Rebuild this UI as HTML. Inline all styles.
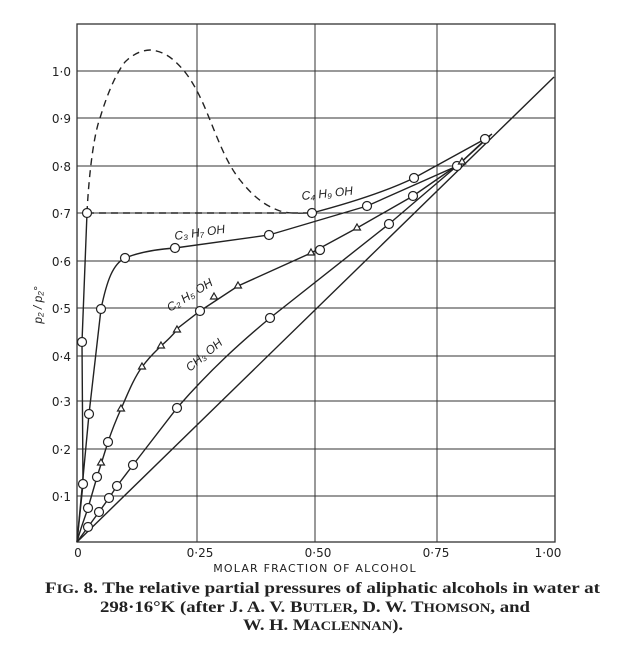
<!DOCTYPE html>
<html><head><meta charset="utf-8"><style>
body{margin:0;background:#fff;width:630px;height:656px;overflow:hidden}
svg{display:block}
.t{font-family:"DejaVu Sans","Liberation Sans",sans-serif;font-size:12px;fill:#222}
.c{font-family:"Liberation Serif",serif;font-size:16px;fill:#222;font-weight:bold}
.l{font-family:"Liberation Sans",sans-serif;font-style:italic;font-size:12px;fill:#222}
</style></head><body>
<svg width="630" height="656" viewBox="0 0 630 656" xmlns="http://www.w3.org/2000/svg">
<g stroke="#333" stroke-width="1" fill="none">
<rect x="77" y="24" width="478" height="518" stroke-width="1.3"/>
<path d="M197 24V542M315 24V542M437 24V542"/>
<path d="M77 71H555M77 118H555M77 166H555M77 213H555M77 261H555M77 308H555M77 356H555M77 401H555M77 449H555M77 496H555"/>
</g>
<g stroke="#222" stroke-width="1.4" fill="none">
<path d="M77 542L554 77"/>
<path d="M77 542C80 530 84 520 88 508L97 477L108 442C112 430 116 420 121 409C128 393 134 378 142 367C150 356 155 352 161 346C170 338 175 333 178 328L200 311L238 286L311 253L357 228L413 196L462 162"/>
<path d="M77 542L88 527L99 512L109 498L117 486L133 465L177 408C210 370 240 343 270 318L389 224L457 166L490 136"/>
<path d="M77 542L89 414L101 309C107 280 113 264 125 258C140 252 160 249 175 248L269 235L367 206L457 166L488 137"/>
<path d="M77 542L83 484L82 342L87 213"/>
<path d="M312 213C350 203 385 192 414 178L485 139L492 134"/>
<path d="M87 213C88 190 92 140 100 118C107 95 115 75 125 62C135 52 145 50 150 50C165 51 175 60 185 72C195 85 202 100 210 120C220 145 228 165 240 180C252 195 263 205 280 211C290 214 300 213 312 213M87 213H312" stroke-dasharray="7,5"/>
</g>
<g stroke="#222" stroke-width="1.2" fill="#fff">
<circle cx="87" cy="213" r="4.5"/><circle cx="82" cy="342" r="4.5"/><circle cx="83" cy="484" r="4.5"/><circle cx="312" cy="213" r="4.5"/><circle cx="414" cy="178" r="4.5"/><circle cx="485" cy="139" r="4.5"/>
<circle cx="89" cy="414" r="4.5"/><circle cx="101" cy="309" r="4.5"/><circle cx="125" cy="258" r="4.5"/><circle cx="175" cy="248" r="4.5"/><circle cx="269" cy="235" r="4.5"/><circle cx="367" cy="206" r="4.5"/><circle cx="457" cy="166" r="4.5"/>
<circle cx="88" cy="527" r="4.5"/><circle cx="99" cy="512" r="4.5"/><circle cx="109" cy="498" r="4.5"/><circle cx="117" cy="486" r="4.5"/><circle cx="133" cy="465" r="4.5"/><circle cx="177" cy="408" r="4.5"/><circle cx="270" cy="318" r="4.5"/><circle cx="389" cy="224" r="4.5"/>
<circle cx="88" cy="508" r="4.5"/><circle cx="97" cy="477" r="4.5"/><circle cx="108" cy="442" r="4.5"/><circle cx="200" cy="311" r="4.5"/><circle cx="320" cy="250" r="4.5"/><circle cx="413" cy="196" r="4.5"/>
<path d="M101 459l3.5 6h-7zM121 405l3.5 6h-7zM142 363l3.5 6h-7zM161 342l3.5 6h-7zM177 326l3.5 6h-7zM214 293l3.5 6h-7zM238 282l3.5 6h-7zM311 249l3.5 6h-7zM357 224l3.5 6h-7zM462 158l3.5 6h-7z"/>
</g>
<g class="t" text-anchor="end">
<text x="71" y="76">1·0</text><text x="71" y="123">0·9</text><text x="71" y="171">0·8</text><text x="71" y="218">0·7</text><text x="71" y="266">0·6</text><text x="71" y="313">0·5</text><text x="71" y="361">0·4</text><text x="71" y="406">0·3</text><text x="71" y="454">0·2</text><text x="71" y="501">0·1</text>
</g>
<g class="t" text-anchor="middle">
<text x="78" y="557">0</text><text x="200" y="557">0·25</text><text x="318" y="557">0·50</text><text x="436" y="557">0·75</text><text x="548" y="557">1·00</text>
<text x="315" y="572" font-size="11" letter-spacing="1.2">MOLAR FRACTION OF ALCOHOL</text>
</g>
<text class="l" transform="translate(42,305) rotate(-90)" text-anchor="middle" font-size="13">p₂ / p₂°</text>
<text class="l" x="175" y="240" transform="rotate(-8 175 240)">C₃ H₇ OH</text>
<text class="l" x="170" y="312" transform="rotate(-32 170 312)">C₂ H₅ OH</text>
<text class="l" x="190" y="372" transform="rotate(-40 190 372)">CH₃ OH</text>
<text class="l" x="302" y="200" transform="rotate(-6 302 200)">C₄ H₉ OH</text>
<g class="c">
<text x="45" y="593" textLength="555" lengthAdjust="spacingAndGlyphs">F<tspan font-size="12.5">IG</tspan>. 8.  The relative partial pressures of aliphatic alcohols in water at</text>
<text x="100" y="612" textLength="430" lengthAdjust="spacingAndGlyphs">298·16°K (after J. A. V. B<tspan font-size="12.5">UTLER</tspan>, D. W. T<tspan font-size="12.5">HOMSON</tspan>, and</text>
<text x="243" y="630" textLength="160" lengthAdjust="spacingAndGlyphs">W. H. M<tspan font-size="12.5">ACLENNAN</tspan>).</text>
</g>
</svg>
</body></html>
